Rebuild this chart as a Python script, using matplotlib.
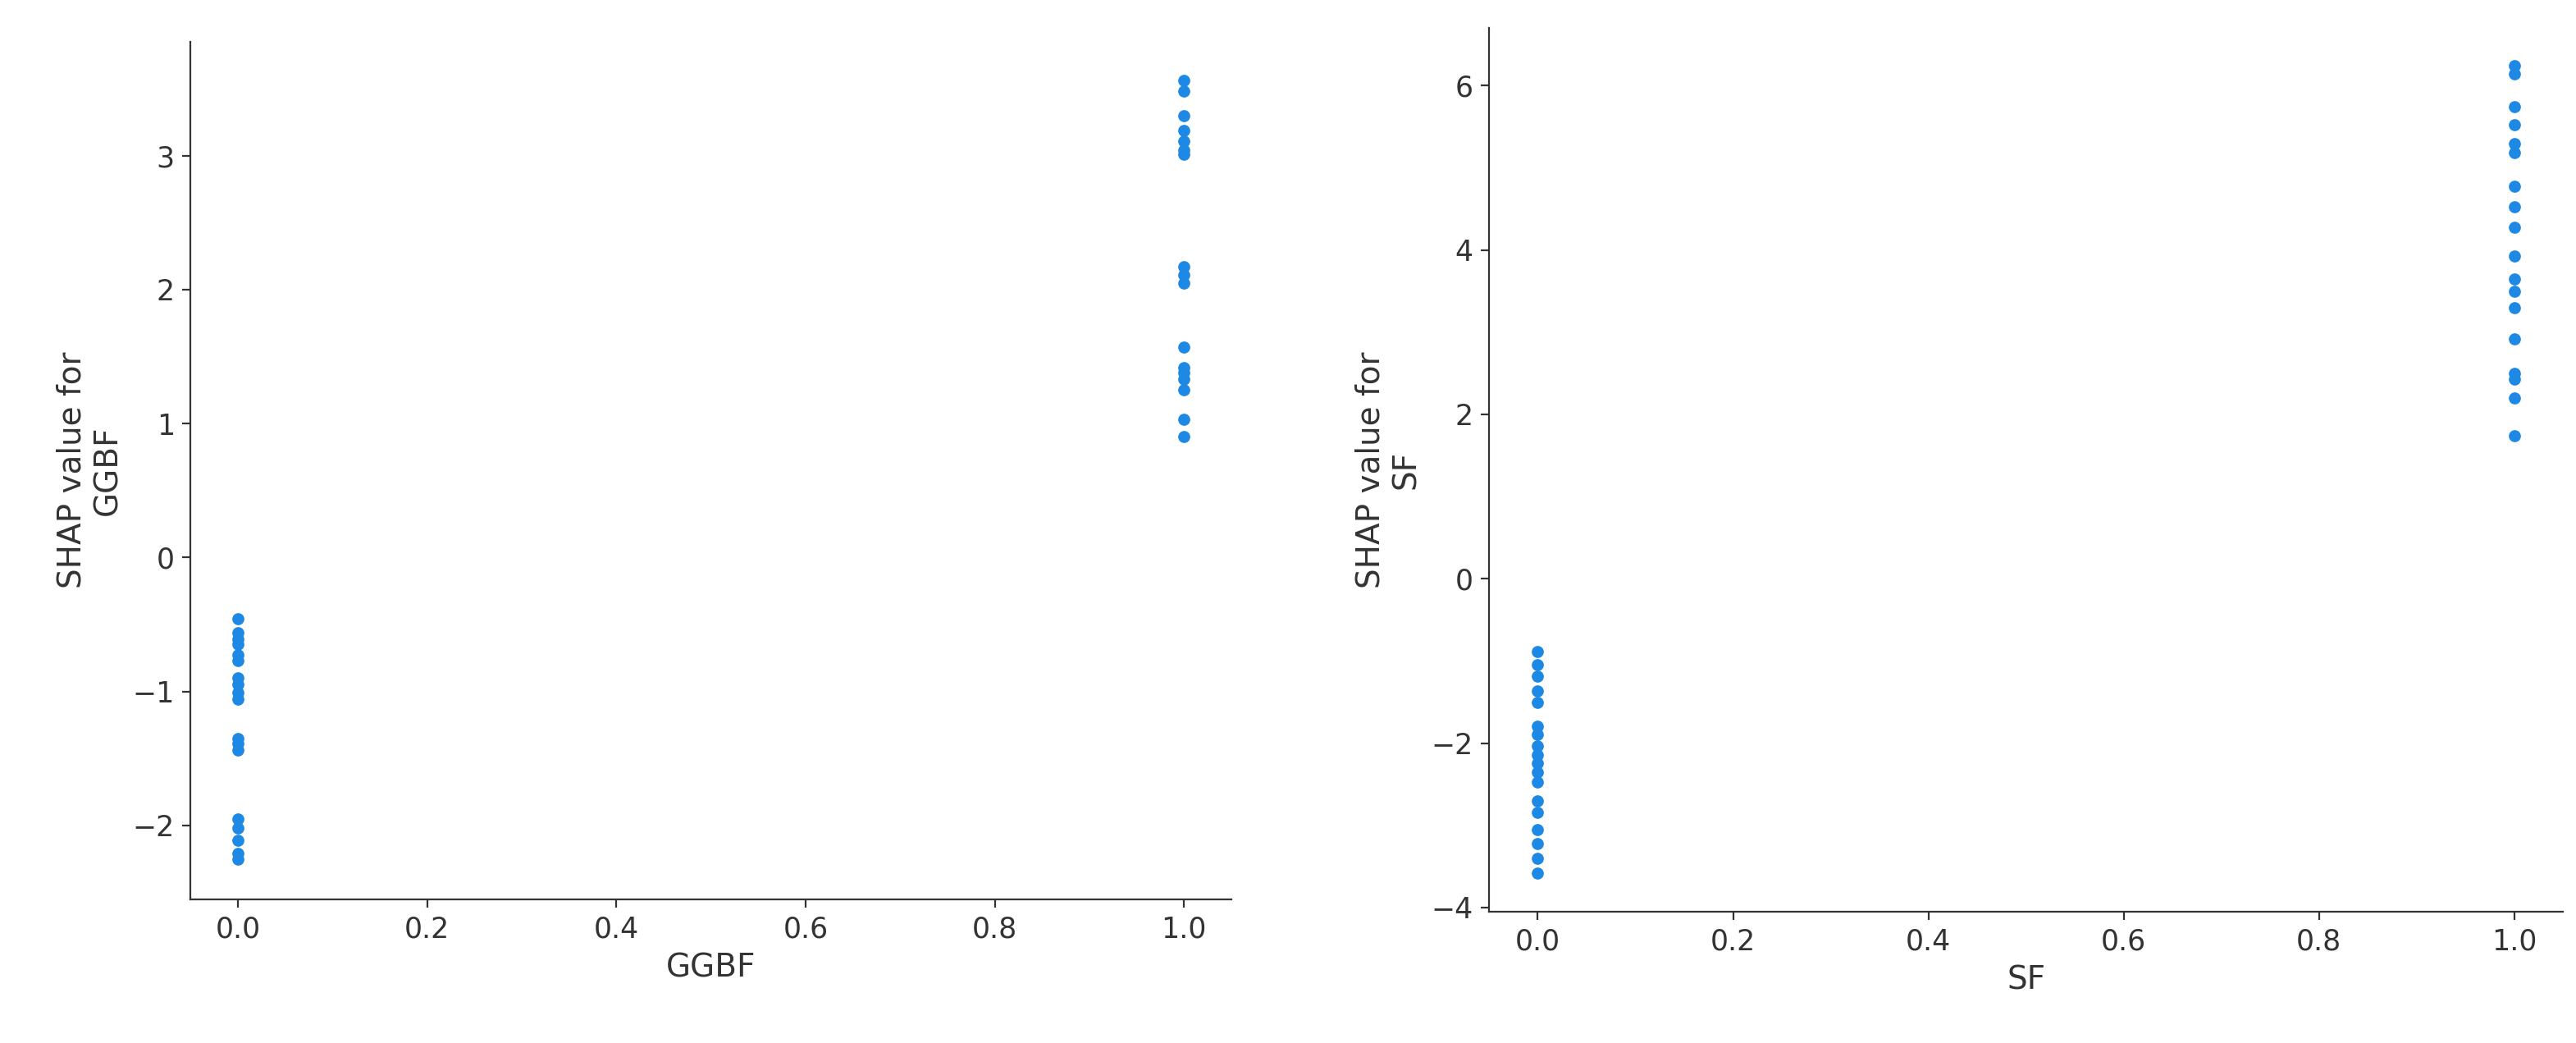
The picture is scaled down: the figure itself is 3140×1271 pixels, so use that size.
import matplotlib
matplotlib.use('Agg')
import matplotlib.pyplot as plt

# values
ggbf_x0 = [-0.46, -0.56, -0.61, -0.65, -0.73, -0.77, -0.90, -0.95, -1.01, -1.06,
           -1.35, -1.39, -1.44, -1.95, -2.02, -2.11, -2.21, -2.25]
ggbf_x1 = [3.56, 3.48, 3.30, 3.19, 3.11, 3.04, 3.01, 2.17, 2.11, 2.05,
           1.57, 1.42, 1.38, 1.33, 1.25, 1.03, 0.90]
sf_x0 = [-0.89, -1.05, -1.19, -1.37, -1.51, -1.79, -1.89, -2.03, -2.14, -2.24,
         -2.35, -2.47, -2.70, -2.84, -3.05, -3.22, -3.40, -3.58]
sf_x1 = [6.24, 6.14, 5.74, 5.52, 5.30, 5.19, 4.78, 4.53, 4.28, 3.93,
         3.65, 3.50, 3.30, 2.92, 2.50, 2.43, 2.20, 1.74]

color = '#1E88E5'
fig = plt.figure(figsize=(15.7, 6.355), dpi=200)
ax1 = fig.add_axes([0.074, 0.138, 0.404, 0.822])
ax2 = fig.add_axes([0.578, 0.126, 0.417, 0.847])

panels = [(ax1, ggbf_x0, ggbf_x1, 'GGBF', (-2.55, 3.85)),
          (ax2, sf_x0, sf_x1, 'SF', (-4.05, 6.7))]
for ax, y0, y1, name, ylim in panels:
    ax.scatter([0.0] * len(y0), y0, s=28, color=color, linewidths=0)
    ax.scatter([1.0] * len(y1), y1, s=28, color=color, linewidths=0)
    ax.set_xlim(-0.05, 1.05)
    ax.set_ylim(*ylim)
    ax.set_xlabel(name, fontsize=14, color='#333333')
    ax.set_ylabel('SHAP value for\n' + name, fontsize=14, color='#333333')
    ax.spines['top'].set_visible(False)
    ax.spines['right'].set_visible(False)
    for s in ['left', 'bottom']:
        ax.spines[s].set_color('#333333')
    ax.tick_params(labelsize=12.5, colors='#333333')

fig.savefig('out.png', dpi=200)
